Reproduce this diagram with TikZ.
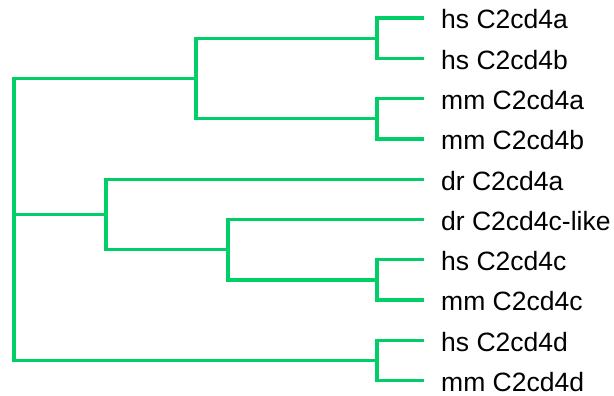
\documentclass[tikz,border=0pt]{standalone}
\usepackage{fontspec}
\setmainfont{Liberation Sans}
\definecolor{branch}{RGB}{0,206,102}
\tikzset{
  edge/.style={draw=branch, line width=3.3pt, line join=miter, line cap=rect},
  lbl/.style={anchor=base west, inner sep=0pt, font=\fontsize{26.5}{30}\selectfont, text=black}
}
\begin{document}
\begin{tikzpicture}[x=1pt,y=-1pt]
\useasboundingbox (0,0) rectangle (614,396);
% leaves
\coordinate (L1) at (422,18.0);
\coordinate (L2) at (422,58.3);
\coordinate (L3) at (422,98.6);
\coordinate (L4) at (422,138.9);
\coordinate (L5) at (422,179.2);
\coordinate (L6) at (422,219.5);
\coordinate (L7) at (422,259.8);
\coordinate (L8) at (422,300.1);
\coordinate (L9) at (422,340.4);
\coordinate (L10) at (422,380.7);
% internal nodes
\coordinate (P12) at (377,38.2);
\coordinate (P34) at (377,118.8);
\coordinate (A) at (196,78.5);
\coordinate (P78) at (377,280.0);
\coordinate (C) at (228,249.7);
\coordinate (B) at (106,214.5);
\coordinate (D) at (377,360.5);
\coordinate (R) at (14,214.5);
% labels
\foreach \i/\t in {1/hs C2cd4a,2/hs C2cd4b,3/mm C2cd4a,4/mm C2cd4b,5/dr C2cd4a,6/dr C2cd4c-like,7/hs C2cd4c,8/mm C2cd4c,9/hs C2cd4d,10/mm C2cd4d}
  \node[lbl] (T\i) at ([xshift=19pt,yshift=-10.8pt]L\i) {\t};
% edges
\draw[edge] (P12) |- (L1);
\draw[edge] (P12) |- (L2);
\draw[edge] (P34) |- (L3);
\draw[edge] (P34) |- (L4);
\draw[edge] (A) |- (P12);
\draw[edge] (A) |- (P34);
\draw[edge] (P78) |- (L7);
\draw[edge] (P78) |- (L8);
\draw[edge] (C) |- (L6);
\draw[edge] (C) |- (P78);
\draw[edge] (B) |- (L5);
\draw[edge] (B) |- (C);
\draw[edge] (D) |- (L9);
\draw[edge] (D) |- (L10);
\draw[edge] (R) |- (A);
\draw[edge] (R) |- (B);
\draw[edge] (R) |- (D);
\end{tikzpicture}
\end{document}
